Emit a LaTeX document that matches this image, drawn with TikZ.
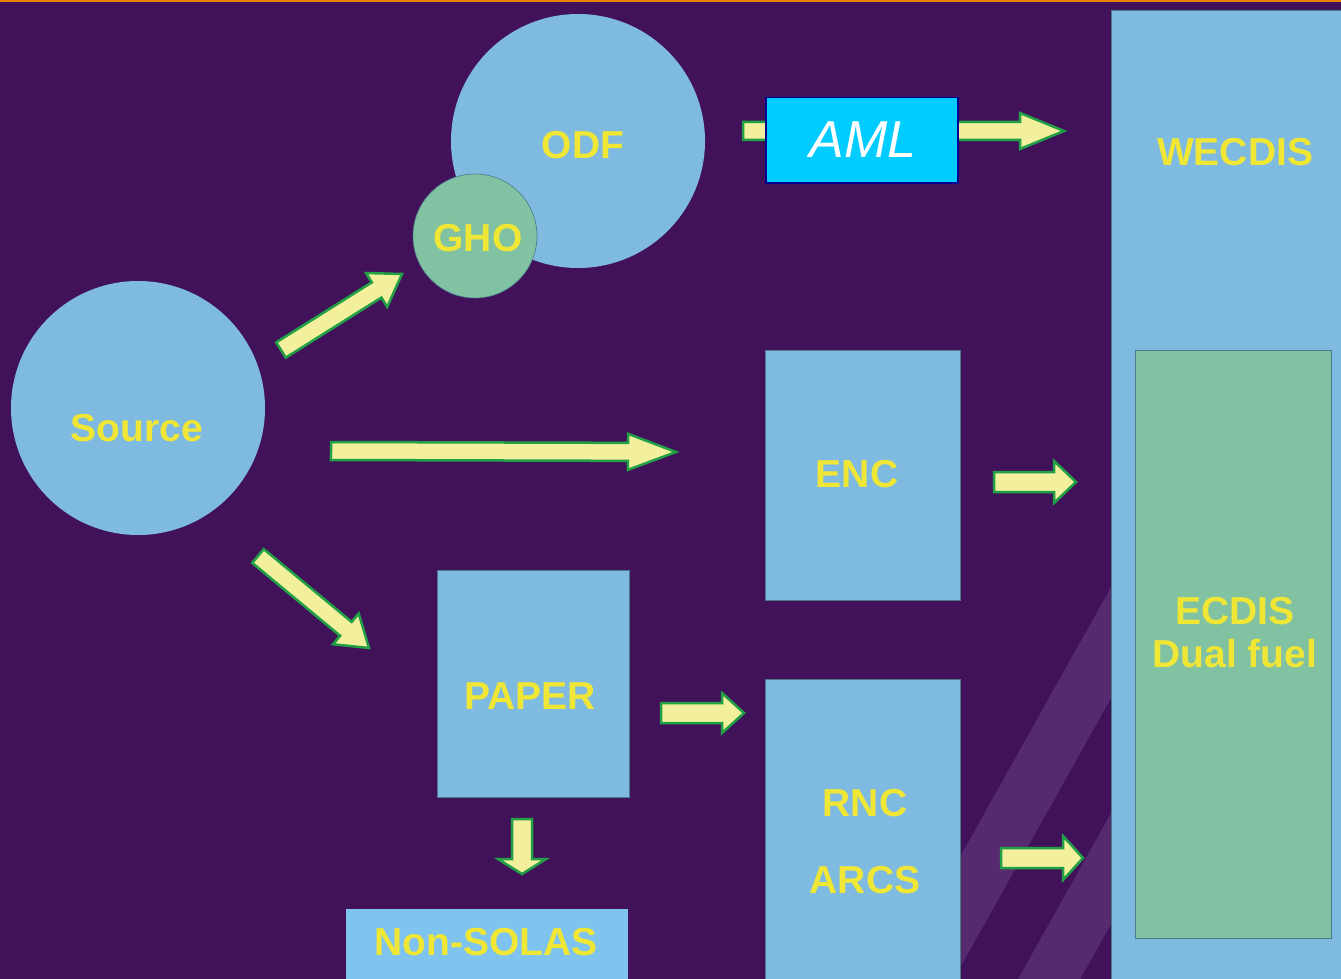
\documentclass[tikz,border=0pt]{standalone}
\usepackage{fontspec}
\setmainfont{Liberation Sans}
\usetikzlibrary{calc}
\definecolor{bg}{HTML}{41125A}
\definecolor{stripe}{HTML}{552A6E}
\definecolor{topline}{HTML}{F08000}
\definecolor{boxblue}{HTML}{7FBBE0}
\definecolor{boxgreen}{HTML}{80C2A2}
\definecolor{boxline}{HTML}{4A7A8C}
\definecolor{lblyellow}{HTML}{F0E636}
\definecolor{amlfill}{HTML}{00CCFF}
\definecolor{amlline}{HTML}{000090}
\definecolor{arrfill}{HTML}{F2F09C}
\definecolor{arrline}{HTML}{22A045}
\definecolor{nonsolas}{HTML}{7EC4EE}
\newcommand{\blockarrow}[5]{%
  \path let \p1=(#1), \p2=(#2) in \pgfextra{%
    \pgfmathsetmacro\baang{atan2(\y2-\y1,\x2-\x1)}%
    \pgfmathsetmacro\balen{veclen(\x2-\x1,\y2-\y1)}%
    \xdef\bax{\x1}\xdef\bay{\y1}\xdef\baangG{\baang}\xdef\balenG{\balen}};
  \pgfmathsetmacro\babase{\balenG-#5}%
  \begin{scope}[shift={(\bax,\bay)},rotate=\baangG]
    \draw[blockarr] (0pt,-#3pt) -- (\babase pt,-#3pt) -- (\babase pt,-#4pt) -- (\balenG pt,0pt) -- (\babase pt,#4pt) -- (\babase pt,#3pt) -- (0pt,#3pt) -- cycle;
  \end{scope}}
\begin{document}
\begin{tikzpicture}[x=1pt,y=-1pt,
  box/.style={draw=boxline, line width=0.8pt, fill=boxblue, rectangle, inner sep=0pt},
  gbox/.style={draw=boxline, line width=0.8pt, fill=boxgreen, rectangle, inner sep=0pt},
  bcircle/.style={circle, fill=boxblue, inner sep=0pt},
  gcircle/.style={circle, fill=boxgreen, draw=boxline, line width=0.6pt, inner sep=0pt},
  lbl/.style={text=lblyellow, font=\bfseries\fontsize{39}{43}\selectfont, align=center, inner sep=0pt},
  blockarr/.style={draw=arrline, fill=arrfill, line width=2.5pt, line join=miter}]
\useasboundingbox (0,0) rectangle (1341,979);
\fill[bg] (0,0) rectangle (1341,979);
% background stripes
\fill[stripe] (1400,71) -- (1400,182) -- (900,1075) -- (900,964) -- cycle;
\fill[stripe] (1400,297) -- (1400,408) -- (900,1301) -- (900,1190) -- cycle;
\fill[topline] (0,0) rectangle (1341,2);
% right column
\node[box, minimum width=240pt, minimum height=990pt, anchor=north west] (wecdis) at (1111,10) {};
\node[gbox, minimum width=196pt, minimum height=588pt, anchor=north west] (ecdis) at (1135,350) {};
\node[lbl] (wecdislbl) at (1235,152) {WECDIS};
\node[lbl] (ecdislbl) at (1235,633) {ECDIS\\Dual fuel};
% circles
\node[bcircle, minimum size=254pt] (source) at (138,408) {};
\node[lbl] (sourcelbl) at (137,428) {Source};
\node[bcircle, minimum size=254pt] (odf) at (578,141) {};
\node[lbl] (odflbl) at (583,145) {ODF};
\node[gcircle, minimum size=124pt] (gho) at (475,236) {};
\node[lbl] (gholbl) at (478,238) {GHO};
% boxes
\node[box, minimum width=195pt, minimum height=250pt, anchor=north west] (enc) at (765,350) {};
\node[lbl] (enclbl) at (857,474) {ENC};
\node[box, minimum width=195pt, minimum height=320pt, anchor=north west] (rnc) at (765,679) {};
\node[lbl] (rnclbl) at (865,803) {RNC};
\node[lbl] (arcslbl) at (865,880) {ARCS};
\node[box, minimum width=192pt, minimum height=227pt, anchor=north west] (paper) at (437,570) {};
\node[lbl] (paperlbl) at (530,696) {PAPER};
\node[rectangle, fill=nonsolas, inner sep=0pt, minimum width=282pt, minimum height=80pt, anchor=north west] (nonsolas) at (346,909) {};
\node[lbl] (nonsolaslbl) at (486,942) {Non-SOLAS};
% arrow end points
\coordinate (a1s) at (281,350); \coordinate (a1e) at (402,274);
\coordinate (a2s) at (331,451); \coordinate (a2e) at (676,452);
\coordinate (a3s) at (258,556); \coordinate (a3e) at (369,648);
\coordinate (a4s) at (661,713); \coordinate (a4e) at (744,713);
\coordinate (a5s) at (994,482); \coordinate (a5e) at (1076,482);
\coordinate (a6s) at (1001,858); \coordinate (a6e) at (1083,858);
\coordinate (a7s) at (522,819); \coordinate (a7e) at (522,874);
\coordinate (a8s) at (743,131); \coordinate (a8e) at (1064,131);
\blockarrow{a1s}{a1e}{9}{20}{30}
\blockarrow{a2s}{a2e}{9}{18}{48}
\blockarrow{a3s}{a3e}{9}{20}{30}
\blockarrow{a4s}{a4e}{10}{20}{22}
\blockarrow{a5s}{a5e}{10}{21}{22}
\blockarrow{a6s}{a6e}{10}{22}{20}
\blockarrow{a7s}{a7e}{10}{24}{15}
\blockarrow{a8s}{a8e}{9}{18}{44}
% AML box
\node[rectangle, draw=amlline, line width=1.5pt, fill=amlfill, minimum width=192pt, minimum height=85pt, anchor=north west] (aml) at (765,97) {};
\node[text=white, font=\itshape\fontsize{52}{56}\selectfont, inner sep=0pt] (amllbl) at (863,140) {AML};
\end{tikzpicture}
\end{document}
